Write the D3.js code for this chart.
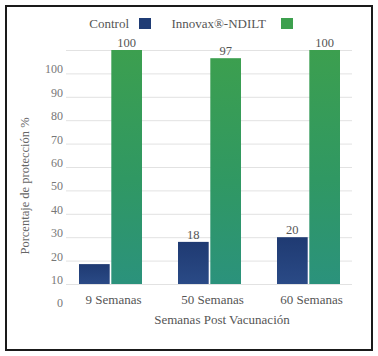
<!DOCTYPE html>
<html><head><meta charset="utf-8">
<script src="https://cdn.jsdelivr.net/npm/d3@7"></script>
<style>html,body{margin:0;padding:0;background:#fff;}svg{display:block;}</style>
</head><body>
<svg id="c" width="378" height="356"></svg>
<script>
const categories = ["9 Semanas", "50 Semanas", "60 Semanas"];
const seriesNames = ["Control", "Innovax®-NDILT"];
const controlValues = [8.5, 18, 20];
const innovaxValues = [100, 96.5, 100];
const controlLabels = ["", "18", "20"];
const innovaxLabels = ["100", "97", "100"];
const tickValues = [0, 10, 20, 30, 40, 50, 60, 70, 80, 90, 100];
const tickLabels = ["0", "10", "20", "30", "40", "50", "60", "70", "80", "90", "100"];
const yTitle = "Porcentaje de protección %";
const xTitle = "Semanas Post Vacunación";

const FONT = "Liberation Serif";
const svg = d3.select("#c");
const defs = svg.append("defs");
const gG = defs.append("linearGradient").attr("id","gGreen").attr("x1",0).attr("y1",0).attr("x2",0).attr("y2",1);
gG.append("stop").attr("offset","0%").attr("stop-color","#3c9f4f");
gG.append("stop").attr("offset","55%").attr("stop-color","#309863");
gG.append("stop").attr("offset","100%").attr("stop-color","#2b927c");
const gB = defs.append("linearGradient").attr("id","gBlue").attr("x1",0).attr("y1",0).attr("x2",0).attr("y2",1);
gB.append("stop").attr("offset","0%").attr("stop-color","#1f3a72");
gB.append("stop").attr("offset","100%").attr("stop-color","#2a4a86");

svg.append("rect").attr("x",6).attr("y",6).attr("width",366).attr("height",344)
  .attr("fill","none").attr("stroke","#1a1a1a").attr("stroke-width",2);

const y = d3.scaleLinear().domain([0,100]).range([284,50]);
const x0 = d3.scaleBand().domain(categories).range([61,358]).paddingInner(0).paddingOuter(0);
const x1 = d3.scaleBand().domain(seriesNames).range([0,63]).paddingInner(0.05);
const groupOffset = (x0.bandwidth() - 63)/2;

svg.append("g").selectAll("line").data(tickValues).join("line")
  .attr("x1",66).attr("x2",352)
  .attr("y1",d=>y(d)+0.5).attr("y2",d=>y(d)+0.5)
  .attr("stroke","#e2e2e2").attr("stroke-width",1);

svg.append("g").selectAll("text").data(tickValues).join("text")
  .attr("font-family",FONT)
  .attr("x",63).attr("y",d=>y(d-10))
  .attr("text-anchor","end").attr("font-size",12).attr("fill","#777")
  .text((d,i)=>tickLabels[i]);

const data = categories.map((c,i)=>({c, vals:[
  {s:seriesNames[0], v:controlValues[i], l:controlLabels[i], f:"url(#gBlue)"},
  {s:seriesNames[1], v:innovaxValues[i], l:innovaxLabels[i], f:"url(#gGreen)"}]}));

const groups = svg.append("g").selectAll("g").data(data).join("g")
  .attr("transform",d=>`translate(${x0(d.c)+groupOffset},0)`);
groups.selectAll("rect").data(d=>d.vals).join("rect")
  .attr("x",d=>x1(d.s)).attr("width",x1.bandwidth())
  .attr("y",d=>y(d.v)).attr("height",d=>y(0)-y(d.v))
  .attr("fill",d=>d.f);
groups.selectAll("text").data(d=>d.vals).join("text")
  .attr("font-family",FONT)
  .attr("x",d=>x1(d.s)+x1.bandwidth()/2).attr("y",d=>y(d.v)-3)
  .attr("text-anchor","middle").attr("font-size",12.5).attr("fill","#555")
  .text(d=>d.l);

svg.append("g").selectAll("text").data(categories).join("text")
  .attr("font-family",FONT)
  .attr("x",d=>x0(d)+x0.bandwidth()/2+3).attr("y",304)
  .attr("text-anchor","middle").attr("font-size",13).attr("fill","#555").text(d=>d);

svg.append("text").attr("font-family",FONT).attr("x",222).attr("y",324).attr("text-anchor","middle")
  .attr("font-size",13).attr("fill","#555").text(xTitle);

svg.append("text").attr("font-family",FONT).attr("transform","translate(29,186) rotate(-90)")
  .attr("text-anchor","middle").attr("font-size",12.5).attr("fill","#666").text(yTitle);

const leg = [{t:seriesNames[0], tx:129, sx:139, f:"#1f3c75"},{t:seriesNames[1], tx:266, sx:281, f:"#3da04e"}];
leg.forEach(l=>{
  svg.append("text").attr("font-family",FONT).attr("x",l.tx).attr("y",28).attr("text-anchor","end")
    .attr("font-size",13).attr("fill","#555").text(l.t);
  svg.append("rect").attr("x",l.sx).attr("y",18).attr("width",12).attr("height",11).attr("fill",l.f);
});
</script>
</body></html>
